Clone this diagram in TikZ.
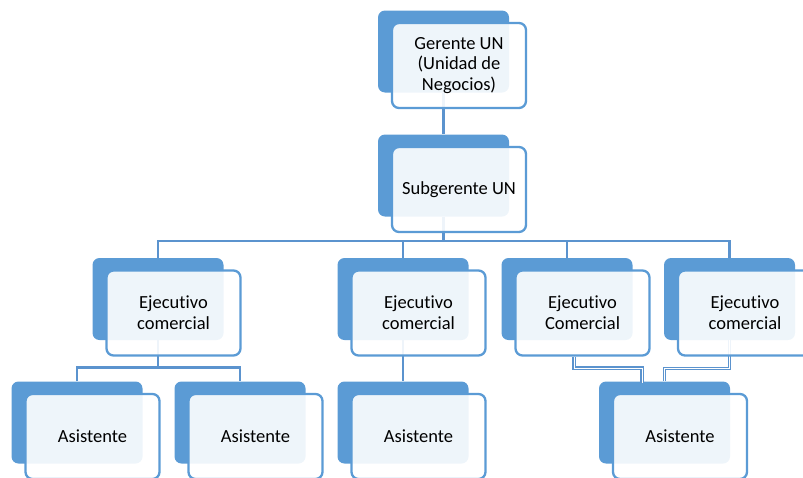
\documentclass[tikz,border=0pt]{standalone}
\usepackage{fontspec}
\setmainfont[RawFeature={-liga;-clig;-calt;-dlig}]{Carlito}
\usetikzlibrary{calc}
\definecolor{orgblue}{HTML}{5B9BD5}
\definecolor{linkblue}{HTML}{5B93CE}
\begin{document}
\begin{tikzpicture}[x=1pt,y=-1pt,
  back/.style={fill=orgblue, rounded corners=7pt, minimum width=131pt,
    minimum height=82pt, inner sep=0pt},
  front/.style={draw=orgblue, line width=2.3pt, fill=white, fill opacity=0.9,
    text opacity=1, rounded corners=7pt, minimum width=134pt,
    minimum height=85pt, inner sep=0pt, align=center,
    font=\fontsize{18.5}{20.8}\selectfont},
  link/.style={draw=linkblue, line width=2.8pt},
  hollow/.style={draw=linkblue, line width=1.1pt, double=white, double distance=1pt}
]
\useasboundingbox (0,0) rectangle (803,477);
\clip (0,0) rectangle (803,477);

% back panels of every position
\node[back] (gm) at (443.5,51.5) {};
\node[back] (sg) at (443.5,175.5) {};
\node[back] (e1) at (158,299) {};
\node[back] (e2) at (403,299) {};
\node[back] (e3) at (567,299) {};
\node[back] (e4) at (729.5,299) {};
\node[back] (a1) at (77,422.5) {};
\node[back] (a2) at (240,422.5) {};
\node[back] (a3) at (403,422.5) {};
\node[back] (a4) at (664.5,422.5) {};

% connectors
\coordinate (bus) at (443.5,241);
\draw[link] (gm.south) -- (sg.north);
\draw[link] (sg.south) -- (bus);
\draw[link] (e1.north) |- (bus) -| (e4.north);
\draw[link] (bus -| e2.north) -- (e2.north);
\draw[link] (bus -| e3.north) -- (e3.north);
\coordinate (b1) at ($(e1.south)+(0,27)$);
\draw[link] (e1.south) -- (b1);
\draw[link] (a1.north) |- (b1) -| (a2.north);
\draw[link] (e2.south) -- (a3.north);
\coordinate (s3) at (574,357);
\coordinate (t3) at (642,382.5);
\draw[hollow] (s3) -- ++(0,11) -| (t3);
\draw[hollow] (e4.south) -- ++(0,28) -| (a4.north);

% front cards with the titles
\node[front] (gm-f) at ($(gm)+(15.5,14)$) {Gerente UN\\(Unidad de\\Negocios)};
\node[front] (sg-f) at ($(sg)+(15.5,14)$) {Subgerente UN};
\node[front] (e1-f) at ($(e1)+(15.5,14)$) {Ejecutivo\\comercial};
\node[front] (e2-f) at ($(e2)+(15.5,14)$) {Ejecutivo\\comercial};
\node[front] (e3-f) at ($(e3)+(15.5,14)$) {Ejecutivo\\Comercial};
\node[front] (e4-f) at ($(e4)+(15.5,14)$) {Ejecutivo\\comercial};
\node[front] (a1-f) at ($(a1)+(15.5,14)$) {Asistente};
\node[front] (a2-f) at ($(a2)+(15.5,14)$) {Asistente};
\node[front] (a3-f) at ($(a3)+(15.5,14)$) {Asistente};
\node[front] (a4-f) at ($(a4)+(15.5,14)$) {Asistente};
\end{tikzpicture}
\end{document}
